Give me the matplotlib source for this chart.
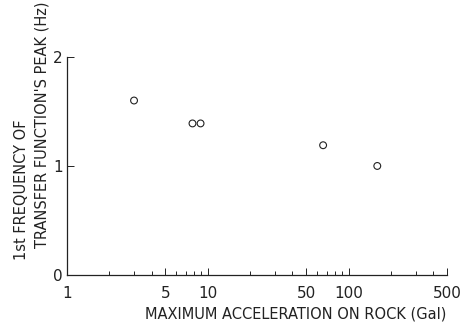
import numpy as np
import matplotlib
matplotlib.use('Agg')
import matplotlib.pyplot as plt
from matplotlib.ticker import FixedLocator, FixedFormatter

# peak acceleration on rock (Gal) vs 1st peak frequency (Hz)
accel = [3.0, 7.8, 8.9, 66, 160]
freq = [1.6, 1.39, 1.39, 1.19, 1.0]

xtick_vals = [1, 5, 10, 50, 100, 500]
xtick_labels = ['1', '5', '10', '50', '100', '500']
ytick_vals = [0, 1, 2]

plt.rcParams['font.family'] = 'DejaVu Sans'
ink = '#222222'

fig = plt.figure(figsize=(4.74, 3.27), dpi=100)
ax = fig.add_axes([0.141, 0.159, 0.802, 0.667])

ax.scatter(accel, freq, s=24, facecolors='none', edgecolors=ink, linewidths=0.8)

ax.set_xscale('log')
ax.set_xlim(1, 500)
ax.set_ylim(0, 2)

ax.xaxis.set_major_locator(FixedLocator(xtick_vals))
ax.xaxis.set_major_formatter(FixedFormatter(xtick_labels))
minor = [m * d for d in (1, 10, 100) for m in range(2, 10) if m * d < 500]
ax.xaxis.set_minor_locator(FixedLocator(minor))
ax.xaxis.set_minor_formatter(FixedFormatter([''] * len(minor)))
ax.set_yticks(ytick_vals)

ax.tick_params(axis='both', which='major', direction='in', length=5, width=0.7,
               labelsize=11, colors=ink)
ax.tick_params(axis='x', which='minor', direction='in', length=3, width=0.6)
ax.tick_params(axis='x', which='major', pad=8)
ax.tick_params(axis='y', which='major', pad=3)

for s in ('top', 'right'):
    ax.spines[s].set_visible(False)
for s in ('left', 'bottom'):
    ax.spines[s].set_linewidth(0.9)
    ax.spines[s].set_color(ink)

ax.set_xlabel('MAXIMUM ACCELERATION ON ROCK (Gal)', fontsize=10.5, color=ink)
ax.xaxis.set_label_coords(0.603, -0.18)
ax.xaxis.label.set_va('center')

# two-line y label, each line placed on its own like the original
fig.text(22 / 474, 1 - 190 / 327, '1st FREQUENCY OF', rotation=90, fontsize=10.5,
         color=ink, ha='center', va='center')
fig.text(42 / 474, 1 - 125 / 327, "TRANSFER FUNCTION'S PEAK (Hz)", rotation=90,
         fontsize=10.5, color=ink, ha='center', va='center')

fig.savefig('out.png', dpi=100)
